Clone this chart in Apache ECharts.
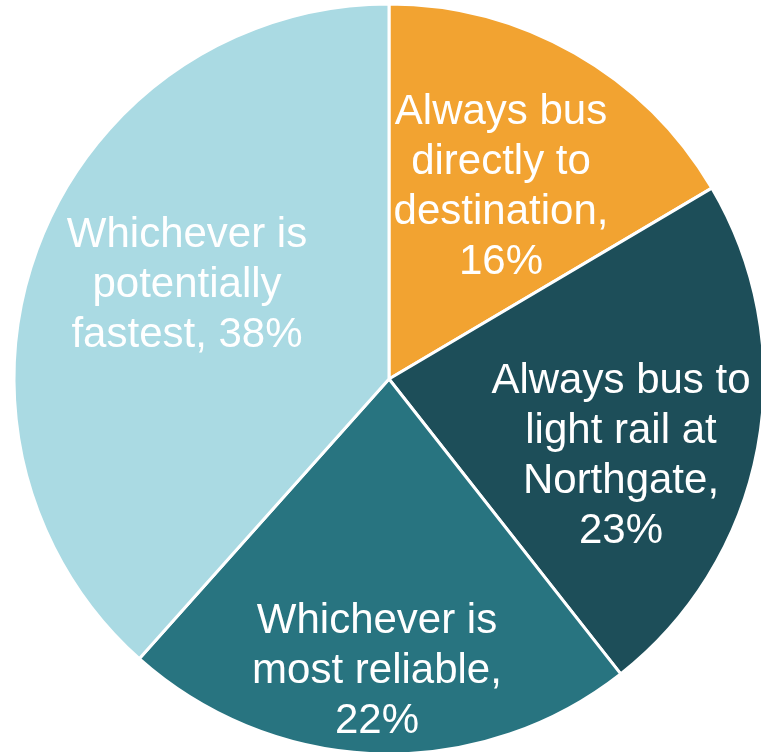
<!DOCTYPE html>
<html>
<head>
<meta charset="utf-8">
<script src="https://cdn.jsdelivr.net/npm/echarts@6/dist/echarts.min.js"></script>
<style>html,body{margin:0;padding:0;background:#fff;}#c{width:761px;height:752px;}</style>
</head>
<body>
<div id="c"></div>
<script>
const categories = [
  'Always bus\ndirectly to\ndestination,',
  'Always bus to\nlight rail at\nNorthgate,',
  'Whichever is\nmost reliable,',
  'Whichever is\npotentially\nfastest,'
];
const values = [16.5, 22.9, 22.2, 38.4];
const pctLabels = ['16%', '23%', '22%', '38%'];
const colors = ['#F2A331', '#1D4E59', '#287480', '#AADAE3'];

const labelCenters = [[501, 187], [621, 456], [377, 671], [187, 285]];

const chart = echarts.init(document.getElementById('c'), null, {renderer: 'canvas'});
chart.setOption({
  animation: false,
  series: [{
    type: 'pie',
    center: [389, 379],
    radius: [0, 375],
    startAngle: 90,
    clockwise: true,
    avoidLabelOverlap: false,
    itemStyle: {borderColor: '#ffffff', borderWidth: 3},
    label: {
      show: true,
      position: 'inside',
      color: '#ffffff',
      fontFamily: 'Liberation Sans, Arial, sans-serif',
      fontSize: 42,
      lineHeight: 50,
      align: 'center',
      formatter: function (p) {
        const t = categories[p.dataIndex];
        const lastSep = p.dataIndex === 3 ? ' ' : '\n';
        return t + lastSep + pctLabels[p.dataIndex];
      }
    },
    labelLine: {show: false},
    labelLayout: function (p) {
      const c = labelCenters[p.dataIndex];
      return {x: c[0], y: c[1], align: 'center', verticalAlign: 'middle'};
    },
    emphasis: {disabled: true},
    data: categories.map(function (n, i) {
      return {name: n, value: values[i], itemStyle: {color: colors[i]}};
    })
  }]
});
</script>
</body>
</html>
